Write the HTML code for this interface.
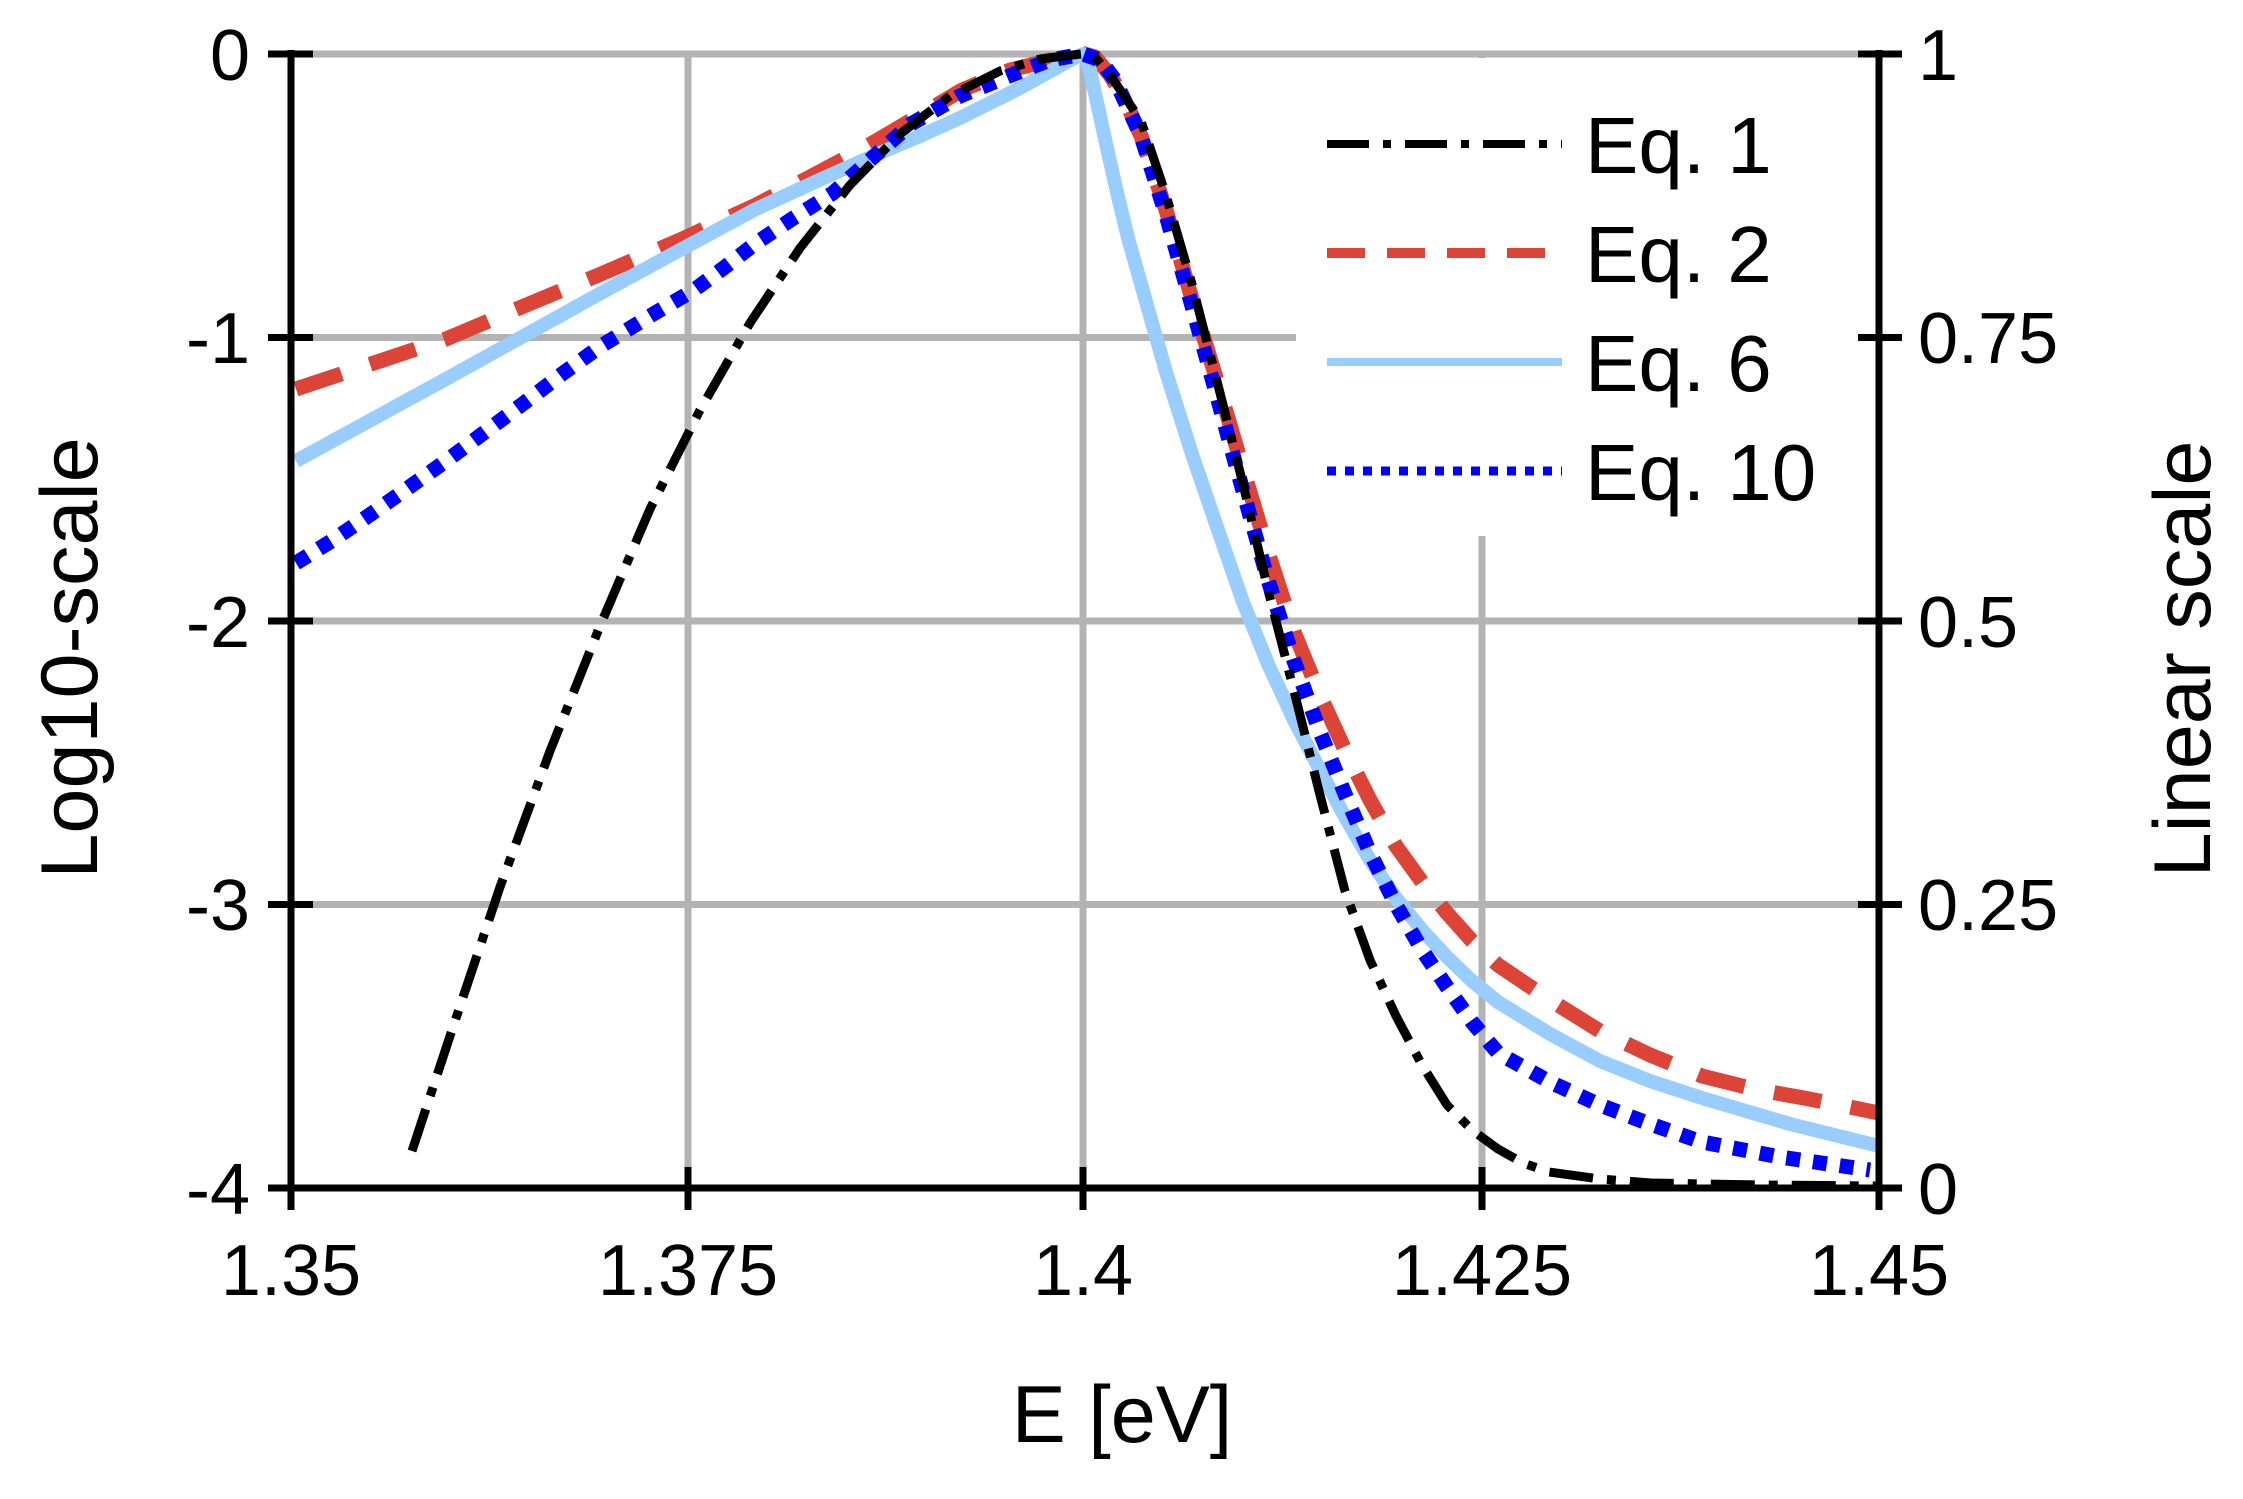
<!DOCTYPE html>
<html><head><meta charset="utf-8"><style>
html,body{margin:0;padding:0;background:#fff;}
svg{display:block;}
text{font-family:"Liberation Sans",Arial,sans-serif;fill:#000;}
</style></head><body>
<svg width="2243" height="1499" viewBox="0 0 2243 1499" xmlns="http://www.w3.org/2000/svg">
<rect width="2243" height="1499" fill="#fff"/>
<g stroke="#b3b3b3" stroke-width="7">
<line x1="291" y1="54" x2="1879" y2="54"/>
<line x1="291" y1="337.5" x2="1879" y2="337.5"/>
<line x1="291" y1="621" x2="1879" y2="621"/>
<line x1="291" y1="904.5" x2="1879" y2="904.5"/>
<line x1="688" y1="54" x2="688" y2="1188"/>
<line x1="1083" y1="54" x2="1083" y2="1188"/>
<line x1="1482" y1="54" x2="1482" y2="1188"/>
</g>
<g fill="none" stroke-linejoin="round">
<polyline stroke="#db4437" stroke-width="15" stroke-dasharray="48,30" points="296,389 371,364 446,339 524,306 601,274 680,240 756,205 808,178 859,151 910,121 962,90 1010,70 1055,59 1081,53 1095,57 1110,75 1125,100 1141,136 1166,210 1192,299 1218,384 1243,469 1268,552 1294,632 1320,695 1345,750 1370,800 1396,846 1422,882 1447,913 1472,941 1498,965 1550,1000 1600,1031 1650,1055 1702,1076 1754,1089 1804,1098 1840,1105 1879,1113"/>
<polyline stroke="#99ccff" stroke-width="14" points="296,461 446,379 601,293 680,250 756,209 815,182 875,155 920,136 962,117 1020,88 1076,57 1083,54 1090,70 1103,130 1116,188 1128,238 1141,284 1166,372 1192,454 1218,530 1243,602 1268,664 1294,720 1320,770 1345,817 1370,860 1396,898 1422,930 1447,957 1472,981 1498,1002 1550,1034 1600,1061 1650,1081 1702,1098 1790,1124 1879,1146"/>
<polyline stroke="#0000ff" stroke-width="15" stroke-dasharray="14,13" points="296,563 333,540 371,514 408,488 446,461 485,432 524,403 562,374 601,346 650,316 694,290 725,267 756,243 795,217 833,193 870,160 911,124 960,96 1014,74 1050,60 1083,54 1100,60 1115,80 1141,136 1166,215 1192,306 1218,400 1243,491 1268,580 1294,661 1320,732 1345,794 1370,853 1396,905 1422,950 1447,987 1472,1022 1498,1053 1550,1082 1600,1105 1650,1124 1702,1142 1780,1157 1870,1170"/>
<polyline stroke="#000" stroke-width="9" stroke-dasharray="44,14,9,14" points="412,1151 450,1036 500,887 550,751 600,626 650,509 700,410 750,323 800,248 850,185 900,134 950,96 1000,71 1040,59 1081,54 1095,57 1110,75 1125,97 1141,121 1166,195 1192,284 1218,385 1243,484 1268,590 1294,691 1320,795 1345,891 1370,960 1396,1016 1422,1065 1447,1105 1472,1130 1498,1149 1523,1163 1549,1172 1600,1179 1651,1183 1760,1185 1876,1186"/>
</g>
<rect x="1296" y="58" width="578" height="478" fill="#fff"/>
<g fill="none">
<line x1="1327" y1="144" x2="1562" y2="144" stroke="#000" stroke-width="8" stroke-dasharray="42,14,8,14"/>
<line x1="1327" y1="253" x2="1562" y2="253" stroke="#db4437" stroke-width="10" stroke-dasharray="38,22"/>
<line x1="1327" y1="362" x2="1562" y2="362" stroke="#99ccff" stroke-width="8"/>
<line x1="1327" y1="471" x2="1562" y2="471" stroke="#0000ff" stroke-width="9" stroke-dasharray="9,9"/>
</g>
<g font-size="80">
<text x="1585" y="173">Eq. 1</text>
<text x="1585" y="282">Eq. 2</text>
<text x="1585" y="391">Eq. 6</text>
<text x="1585" y="500">Eq. 10</text>
</g>
<g stroke="#000" stroke-width="7">
<line x1="291" y1="50" x2="291" y2="1192"/>
<line x1="1879" y1="50" x2="1879" y2="1192"/>
<line x1="287" y1="1188" x2="1883" y2="1188"/>
<line x1="268" y1="54" x2="313" y2="54"/>
<line x1="268" y1="337.5" x2="313" y2="337.5"/>
<line x1="268" y1="621" x2="313" y2="621"/>
<line x1="268" y1="904.5" x2="313" y2="904.5"/>
<line x1="268" y1="1188" x2="313" y2="1188"/>
<line x1="1858" y1="54" x2="1902" y2="54"/>
<line x1="1858" y1="337.5" x2="1902" y2="337.5"/>
<line x1="1858" y1="621" x2="1902" y2="621"/>
<line x1="1858" y1="904.5" x2="1902" y2="904.5"/>
<line x1="1858" y1="1188" x2="1902" y2="1188"/>
<line x1="291" y1="1167" x2="291" y2="1210"/>
<line x1="688" y1="1167" x2="688" y2="1210"/>
<line x1="1083" y1="1167" x2="1083" y2="1210"/>
<line x1="1482" y1="1167" x2="1482" y2="1210"/>
<line x1="1879" y1="1167" x2="1879" y2="1210"/>
</g>
<g font-size="72" text-anchor="end">
<text x="250" y="80">0</text>
<text x="250" y="363">-1</text>
<text x="250" y="647">-2</text>
<text x="250" y="930">-3</text>
<text x="250" y="1214">-4</text>
</g>
<g font-size="72">
<text x="1918" y="80">1</text>
<text x="1918" y="363">0.75</text>
<text x="1918" y="647">0.5</text>
<text x="1918" y="930">0.25</text>
<text x="1918" y="1214">0</text>
</g>
<g font-size="72" text-anchor="middle">
<text x="291" y="1295">1.35</text>
<text x="688" y="1295">1.375</text>
<text x="1083" y="1295">1.4</text>
<text x="1482" y="1295">1.425</text>
<text x="1879" y="1295">1.45</text>
</g>
<text x="1122" y="1442" font-size="81" text-anchor="middle">E [eV]</text>
<text transform="translate(97,658) rotate(-90)" font-size="81" text-anchor="middle">Log10-scale</text>
<text transform="translate(2210,659) rotate(-90)" font-size="81" text-anchor="middle">Linear scale</text>
</svg>
</body></html>
